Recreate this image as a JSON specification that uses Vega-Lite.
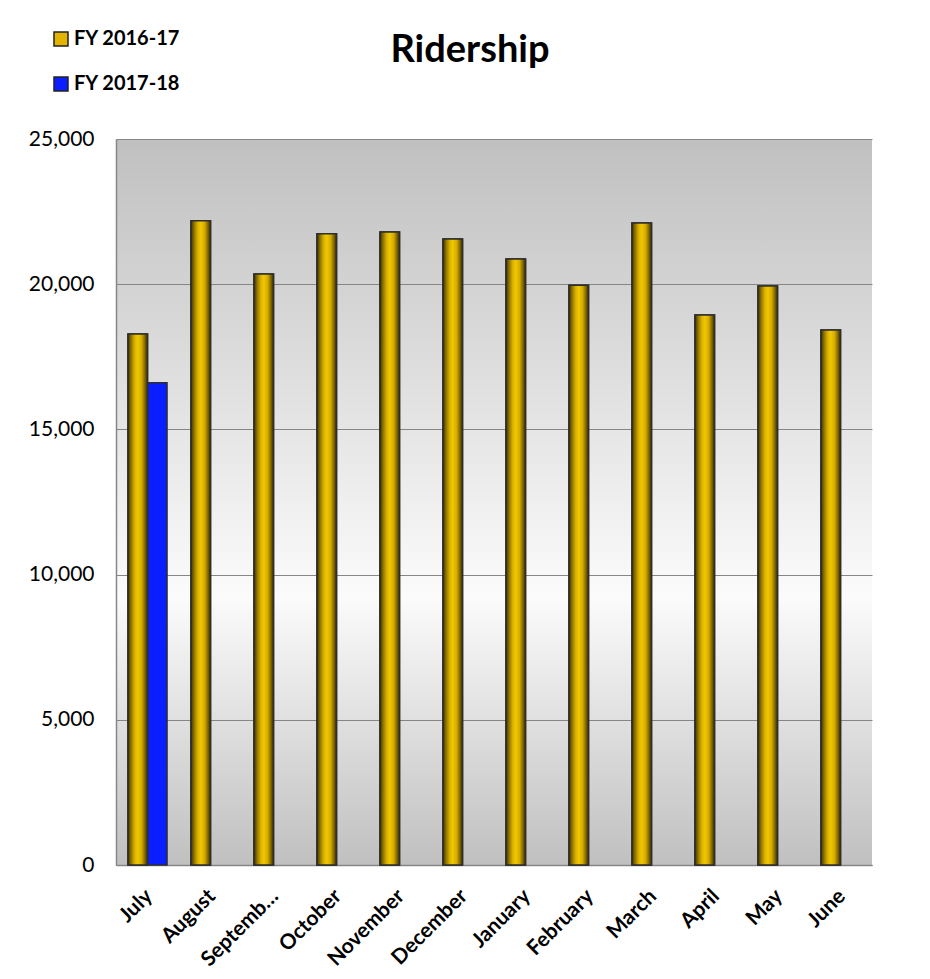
{
  "$schema": "https://vega.github.io/schema/vega-lite/v6.json",
  "width": 756,
  "height": 726,
  "autosize": {"type": "none"},
  "padding": {"left": 116, "top": 139, "right": 58, "bottom": 114},
  "background": "white",
  "title": {
    "text": "Ridership",
    "font": "Lato",
    "fontSize": 38,
    "fontWeight": "bold",
    "color": "black",
    "anchor": "middle",
    "frame": "group",
    "dx": -24,
    "offset": -41
  },
  "view": {
    "stroke": null,
    "fill": {
      "gradient": "linear",
      "x1": 0, "y1": 0, "x2": 0, "y2": 1,
      "stops": [
        {"offset": 0, "color": "#c0c0c0"},
        {"offset": 0.63, "color": "#fbfbfb"},
        {"offset": 1, "color": "#c0c0c0"}
      ]
    }
  },
  "data": {
    "values": [
      {"month": "July", "series": "FY 2016-17", "riders": 18285},
      {"month": "August", "series": "FY 2016-17", "riders": 22187},
      {"month": "September", "series": "FY 2016-17", "riders": 20351},
      {"month": "October", "series": "FY 2016-17", "riders": 21739},
      {"month": "November", "series": "FY 2016-17", "riders": 21798},
      {"month": "December", "series": "FY 2016-17", "riders": 21556},
      {"month": "January", "series": "FY 2016-17", "riders": 20868},
      {"month": "February", "series": "FY 2016-17", "riders": 19962},
      {"month": "March", "series": "FY 2016-17", "riders": 22107},
      {"month": "April", "series": "FY 2016-17", "riders": 18939},
      {"month": "May", "series": "FY 2016-17", "riders": 19938},
      {"month": "June", "series": "FY 2016-17", "riders": 18423},
      {"month": "July", "series": "FY 2017-18", "riders": 16608}
    ]
  },
  "encoding": {
    "x": {
      "field": "month",
      "type": "nominal",
      "sort": ["July", "August", "September", "October", "November", "December", "January", "February", "March", "April", "May", "June"],
      "scale": {"paddingInner": 0.38, "paddingOuter": 0.19},
      "axis": {
        "title": null,
        "labelAngle": -45,
        "labelFont": "Lato",
        "labelFontSize": 21,
        "labelFontWeight": "bold",
        "labelColor": "black",
        "labelPadding": 20,
        "labelOffset": -6,
        "labelExpr": "datum.label == 'September' ? 'Septemb…' : datum.label",
        "ticks": false,
        "grid": false,
        "domainColor": "#868686",
        "domainWidth": 1.5
      }
    },
    "xOffset": {
      "field": "series",
      "type": "nominal",
      "scale": {"domain": ["FY 2016-17", "FY 2017-18"], "paddingInner": 0}
    },
    "y": {
      "field": "riders",
      "type": "quantitative",
      "scale": {"domain": [0, 25000], "nice": false},
      "axis": {
        "title": null,
        "values": [0, 5000, 10000, 15000, 20000, 25000],
        "format": ",d",
        "labelFont": "Lato",
        "labelFontSize": 21,
        "labelColor": "black",
        "labelPadding": 22,
        "ticks": false,
        "grid": true,
        "gridColor": "#868686",
        "gridWidth": 1,
        "domainColor": "#868686",
        "domainWidth": 1.5
      }
    }
  },
  "layer": [
    {
      "mark": {"type": "bar", "stroke": "#2e2e2e", "strokeWidth": 1.5},
      "encoding": {
        "color": {
          "field": "series",
          "type": "nominal",
          "scale": {"domain": ["FY 2016-17", "FY 2017-18"], "range": ["#e2b400", "#0a1eff"]},
          "legend": {
            "title": null,
            "orient": "none",
            "legendX": -65,
            "legendY": -110,
            "direction": "vertical",
            "symbolType": "square",
            "symbolSize": 196,
            "symbolStrokeColor": "#222222",
            "symbolStrokeWidth": 1.5,
            "symbolOpacity": 1,
            "labelFont": "Lato",
            "labelFontSize": 20,
            "labelFontWeight": "bold",
            "labelColor": "black",
            "labelOffset": 3,
            "rowPadding": 25
          }
        }
      }
    },
    {
      "transform": [{"filter": "datum.series == 'FY 2016-17'"}],
      "mark": {
        "type": "bar",
        "stroke": "#2e2e2e",
        "strokeWidth": 1.5,
        "color": {
          "gradient": "linear",
          "x1": 0, "y1": 0, "x2": 1, "y2": 0,
          "stops": [
            {"offset": 0, "color": "#3a3000"},
            {"offset": 0.15, "color": "#8a7000"},
            {"offset": 0.35, "color": "#dcb200"},
            {"offset": 0.5, "color": "#f0c800"},
            {"offset": 0.7, "color": "#d6ab00"},
            {"offset": 0.88, "color": "#7a6200"},
            {"offset": 1, "color": "#3a3000"}
          ]
        }
      }
    }
  ]
}
